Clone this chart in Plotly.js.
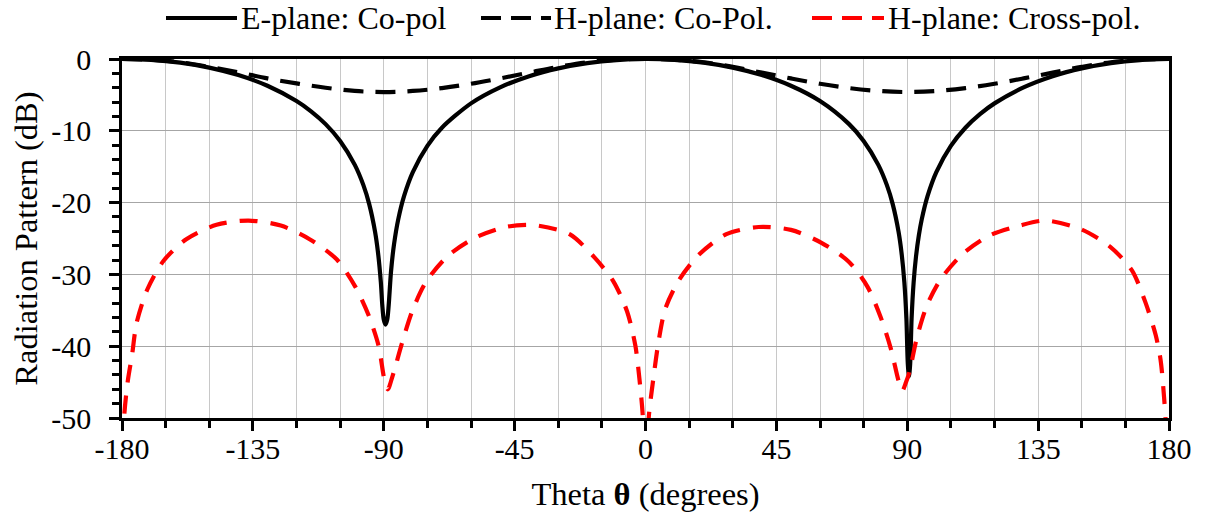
<!DOCTYPE html>
<html>
<head>
<meta charset="utf-8">
<script src="https://cdn.plot.ly/plotly-3.0.1.min.js"></script>
<style>
  html, body { margin: 0; padding: 0; background: #ffffff; }
  #chart { width: 1206px; height: 518px; }
</style>
</head>
<body>
<div id="chart"></div>
<script>
// Theta (degrees) and radiation pattern (dB) for each cut
const thetaE = [-180,-170,-160,-150,-140,-130,-120,-115,-110,-105,-100,-97,-95,-93,-92,-91,-90.5,-90,-89.4,-88.8,
  -88.3,-87.5,-86.5,-85,-83,-80,-75,-70,-60,-50,-40,-30,-20,-10,0,10,20,30,40,50,
  60,70,75,80,83,85,87,88,89,89.7,90.2,90.6,91,91.5,92.2,93,94,95,97,100,
  105,110,115,120,130,140,150,160,170,180];
const ePlaneCo = [0,-0.12,-0.51,-1.2,-2.24,-3.73,-5.86,-7.29,-9.07,-11.41,-14.71,-17.57,-20.21,-24.04,-26.87,-31.08,-34.3,-36.3,-37,-36.3,
  -34.3,-29.6,-25.9,-22.3,-19.06,-15.74,-12.09,-9.57,-6.18,-3.95,-2.39,-1.3,-0.57,-0.15,0,-0.12,-0.51,-1.2,-2.24,-3.73,
  -5.86,-9.07,-11.41,-14.71,-17.57,-20.21,-24.04,-26.87,-31.08,-36.1,-42.5,-44.2,-42.5,-36.1,-31.08,-27.56,-24.54,-22.3,-19.06,-15.74,
  -12.09,-9.57,-7.68,-6.18,-3.95,-2.39,-1.3,-0.57,-0.15,0];

const thetaH = [-180,-170,-160,-150,-140,-130,-120,-110,-100,-90,-80,-70,-60,-50,-40,-30,-20,-10,0,
  10,20,30,40,50,60,70,80,90,100,110,120,130,140,150,160,170,180];
const hPlaneCo = [0,-0.1,-0.45,-1.1,-1.85,-2.7,-3.4,-4.0,-4.45,-4.6,-4.45,-4.05,-3.45,-2.7,-1.9,-1.1,-0.45,-0.1,0,
  -0.1,-0.45,-1.1,-1.9,-2.7,-3.45,-4.05,-4.45,-4.6,-4.45,-4.05,-3.45,-2.7,-1.9,-1.1,-0.45,-0.1,0];

const thetaX = [-180,-179.2,-178,-176.5,-175,-171.3,-165.7,-157.9,-147.5,-136.5,-125.4,-115.5,-106.2,-99.8,-95.2,-91.8,-89.8,-88.6,-87,-83.6,
  -80.1,-75.4,-67.9,-58.6,-48.1,-41,-37.1,-26.1,-17.4,-11,-6.3,-3.5,-2.1,-1,0,1.2,2.8,4.5,6.8,11.5,
  18.5,27.8,38.9,50,60.5,69.8,76.3,80.9,84.4,87,88.3,89.6,90.8,93.2,96.6,101.3,108.9,118.2,128.7,137.5,
  149.7,159.6,167.2,171.9,175.4,177.1,178.3,180];
const hPlaneCross = [-58,-49.5,-44.8,-41.1,-36.8,-32.1,-28.1,-25.1,-23.1,-22.5,-23.2,-25.1,-27.9,-31.7,-35.7,-39.9,-44.6,-46,-44.2,-39.4,
  -35,-31,-27.4,-24.9,-23.4,-23.1,-23.2,-24.4,-27.7,-31,-35.2,-39.9,-44.5,-49.3,-58,-49.5,-44.2,-39.3,-34.8,-30.8,
  -27.2,-24.4,-23.4,-23.8,-25.6,-28.2,-31.7,-36,-40.4,-44.8,-46.2,-45,-43.5,-39,-34.5,-30.8,-27.2,-24.6,-23.2,-22.5,
  -23.7,-26.1,-29.4,-33.9,-38.4,-41.9,-47.1,-58];

const seriesNames = ['E-plane: Co-pol', 'H-plane: Co-Pol.', 'H-plane: Cross-pol.'];
const xTicks = [-180,-135,-90,-45,0,45,90,135,180];
const yTicks = [-50,-40,-30,-20,-10,0];

const FONT = 'Liberation Serif';
const LW = 4.2;

const traces = [
  { x: thetaE, y: ePlaneCo, name: seriesNames[0], mode: 'lines',
    line: { color: '#000000', width: LW, shape: 'spline', smoothing: 0.8 } },
  { x: thetaH, y: hPlaneCo, name: seriesNames[1], mode: 'lines',
    line: { color: '#000000', width: LW, dash: '20px,12px', shape: 'spline', smoothing: 1 } },
  { x: thetaX, y: hPlaneCross, name: seriesNames[2], mode: 'lines',
    line: { color: '#ff0000', width: LW, dash: '18px,13px', shape: 'spline', smoothing: 0.8 } }
];

// Legend drawn above the plot: sample line + label for each series
const L = { left: 122, right: 1169, top: 59, bottom: 418 };
const px2x = p => (p - L.left) / (L.right - L.left);
const px2y = p => (L.bottom - p) / (L.bottom - L.top);
const legendY = px2y(18);
const legendItems = [
  { x0: 166, x1: 237, tx: 240, color: '#000000', dash: 'solid' },
  { x0: 481, x1: 551, tx: 553, color: '#000000', dash: '20px,10px' },
  { x0: 812, x1: 884, tx: 887, color: '#ff0000', dash: '20px,10px' }
];
const shapes = legendItems.map(it => ({
  type: 'line', xref: 'paper', yref: 'paper',
  x0: px2x(it.x0), x1: px2x(it.x1), y0: legendY, y1: legendY,
  line: { color: it.color, width: LW, dash: it.dash }
}));
const annotations = legendItems.map((it, i) => ({
  xref: 'paper', yref: 'paper', x: px2x(it.tx), y: legendY,
  xanchor: 'left', yanchor: 'middle', showarrow: false, borderpad: 0,
  text: seriesNames[i], font: { family: FONT, size: 32, color: '#000000' }
}));

const layout = {
  width: 1206, height: 518,
  margin: { l: L.left, r: 1206 - L.right, t: L.top, b: 518 - L.bottom, pad: 0 },
  paper_bgcolor: '#ffffff', plot_bgcolor: '#ffffff',
  showlegend: false,
  font: { family: FONT, size: 30, color: '#000000' },
  xaxis: {
    range: [-180, 180], tickmode: 'array', tickvals: xTicks, ticktext: xTicks.map(String),
    ticks: 'outside', ticklen: 10, tickwidth: 2.5, tickcolor: '#000000',
    showline: true, linecolor: '#000000', linewidth: 2.5, mirror: true,
    showgrid: true, gridcolor: '#c8c8c8', gridwidth: 1.3, zeroline: false,
    minor: { tick0: -180, dtick: 15, ticks: 'outside', ticklen: 7, tickwidth: 2.5, tickcolor: '#000000',
             showgrid: true, gridcolor: '#c8c8c8', gridwidth: 1.3 },
    tickfont: { family: FONT, size: 30, color: '#000000' },
    ticklabelstandoff: -8,
    title: { text: 'Theta <b>θ</b> (degrees)', font: { family: FONT, size: 32.5, color: '#000000' }, standoff: 19 }
  },
  yaxis: {
    range: [-50, 0], tickmode: 'array', tickvals: yTicks, ticktext: yTicks.map(String),
    ticks: 'outside', ticklen: 10, tickwidth: 2.5, tickcolor: '#000000',
    showline: true, linecolor: '#000000', linewidth: 2.5, mirror: true,
    showgrid: true, gridcolor: '#a6a6a6', gridwidth: 1.3, zeroline: false,
    minor: { tick0: 0, dtick: 2, ticks: 'outside', ticklen: 7, tickwidth: 2.5, tickcolor: '#000000', showgrid: false },
    tickfont: { family: FONT, size: 30, color: '#000000' },
    ticklabelstandoff: 12,
    title: { text: 'Radiation Pattern (dB)', font: { family: FONT, size: 32.5, color: '#000000' }, standoff: 4 }
  },
  shapes: shapes,
  annotations: annotations
};

Plotly.newPlot('chart', traces, layout, { displayModeBar: false, responsive: false });
</script>
</body>
</html>
